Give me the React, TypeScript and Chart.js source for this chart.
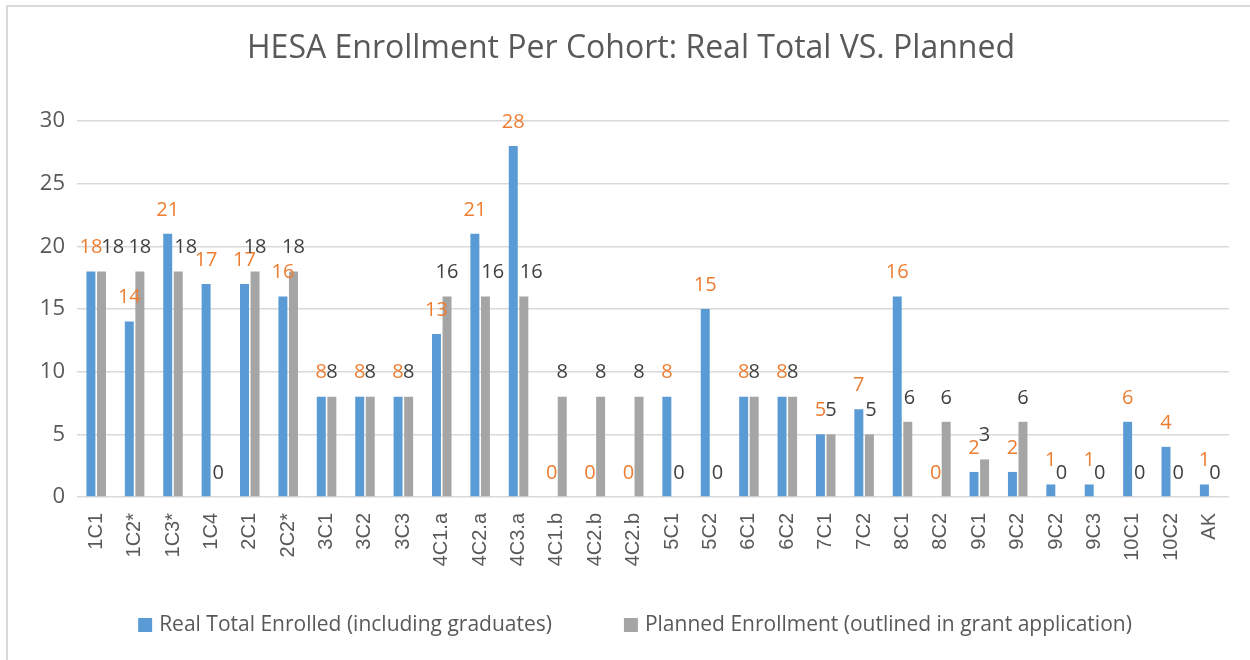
import React, { useEffect, useRef } from "react";
import { Chart, registerables } from "chart.js";

Chart.register(...registerables);

const categories = ["1C1", "1C2*", "1C3*", "1C4", "2C1", "2C2*", "3C1", "3C2", "3C3", "4C1.a", "4C2.a", "4C3.a", "4C1.b", "4C2.b", "4C2.b", "5C1", "5C2", "6C1", "6C2", "7C1", "7C2", "8C1", "8C2", "9C1", "9C2", "9C2", "9C3", "10C1", "10C2", "AK"];
const realEnrolled = [18, 14, 21, 17, 17, 16, 8, 8, 8, 13, 21, 28, 0, 0, 0, 8, 15, 8, 8, 5, 7, 16, 0, 2, 2, 1, 1, 6, 4, 1];
const plannedEnrollment = [18, 18, 18, 0, 18, 18, 8, 8, 8, 16, 16, 16, 8, 8, 8, 0, 0, 8, 8, 5, 5, 6, 6, 3, 6, 0, 0, 0, 0, 0];
const yTicks = [0, 5, 10, 15, 20, 25, 30];
const seriesNames = ["Real Total Enrolled (including graduates)", "Planned Enrollment (outlined in grant application)"];
const titleText = "HESA Enrollment Per Cohort: Real Total VS. Planned";

const BLUE = "#5B9BD5";
const GREY = "#A5A5A5";
const ORANGE = "#ED7D31";
const TEXT = "#595959";
const GRID = "#D9D9D9";

const framePlugin = {
  id: "frame",
  beforeDraw(chart: any) {
    const ctx = chart.ctx;
    ctx.save();
    ctx.fillStyle = "#ffffff";
    ctx.fillRect(0, 0, chart.width, chart.height);
    ctx.fillStyle = GRID;
    ctx.fillRect(6, 5, 2, chart.height - 5);
    ctx.fillRect(6, 5, chart.width - 6, 2);
    ctx.fillStyle = TEXT;
    ctx.font = "32px 'Open Sans'";
    ctx.textAlign = "center";
    ctx.textBaseline = "middle";
    ctx.fillText(titleText, 631, 49);
    ctx.restore();
  },
};

const labelPlugin = {
  id: "barLabels",
  afterDatasetsDraw(chart: any) {
    const ctx = chart.ctx;
    ctx.save();
    ctx.font = "20px 'Open Sans'";
    ctx.textAlign = "center";
    ctx.textBaseline = "middle";
    const m0 = chart.getDatasetMeta(0);
    const m1 = chart.getDatasetMeta(1);
    const H = 15;
    for (let i = 0; i < categories.length; i++) {
      const b0 = m0.data[i];
      const b1 = m1.data[i];
      const t0 = String(realEnrolled[i]);
      const t1 = String(plannedEnrollment[i]);
      const x0 = b0.x;
      const y0 = b0.y - 24;
      let x1 = b1.x;
      const y1 = b1.y - 24;
      const w0 = ctx.measureText(t0).width;
      const w1 = ctx.measureText(t1).width;
      if (Math.abs(y0 - y1) < H - 5) {
        const minLeft = x0 + w0 / 2 - 1;
        if (x1 - w1 / 2 < minLeft) x1 = minLeft + w1 / 2;
      }
      const barRight = b0.x + b0.width / 2;
      if (b0.y < y1 + H / 2 && x1 - w1 / 2 < barRight + 2) x1 = barRight + 2 + w1 / 2;
      ctx.fillStyle = ORANGE;
      ctx.fillText(t0, x0, y0);
      ctx.fillStyle = "#404040";
      ctx.fillText(t1, x1, y1);
    }
    ctx.restore();
  },
};

const legendPlugin = {
  id: "bottomLegend",
  afterDraw(chart: any) {
    const ctx = chart.ctx;
    ctx.save();
    ctx.font = "21px 'Open Sans'";
    const items = chart.data.datasets.map((d: any) => ({
      text: d.label,
      color: d.backgroundColor,
      w: ctx.measureText(d.label).width,
    }));
    const box = 14;
    const gapBT = 7;
    const gapItems = 72;
    const total = items.reduce((s: number, it: any) => s + box + gapBT + it.w, 0) + gapItems * (items.length - 1);
    let x = 635 - total / 2;
    const y = 625;
    for (const it of items) {
      ctx.fillStyle = it.color;
      ctx.fillRect(x, y - 7, box, box);
      x += box + gapBT;
      ctx.fillStyle = TEXT;
      ctx.textBaseline = "middle";
      ctx.textAlign = "left";
      ctx.fillText(it.text, x, y);
      x += it.w + gapItems;
    }
    ctx.restore();
  },
};

export default function App() {
  const ref = useRef<HTMLCanvasElement | null>(null);
  useEffect(() => {
    if (!ref.current) return;
    const chart = new Chart(ref.current, {
      type: "bar",
      data: {
        labels: categories,
        datasets: [
          { label: seriesNames[0], data: realEnrolled, backgroundColor: BLUE, borderWidth: 0, categoryPercentage: 0.55, barPercentage: 0.85 },
          { label: seriesNames[1], data: plannedEnrollment, backgroundColor: GREY, borderWidth: 0, categoryPercentage: 0.55, barPercentage: 0.85 },
        ],
      },
      options: {
        responsive: false,
        animation: false,
        layout: { padding: { top: 121, left: 6, right: 19, bottom: 49 } },
        plugins: {
          legend: { display: false },
          tooltip: { enabled: false },
          title: { display: false },
        },
        scales: {
          x: {
            grid: { display: false, drawTicks: false },
            border: { display: false },
            ticks: {
              autoSkip: false,
              maxRotation: 90,
              minRotation: 90,
              padding: 16,
              color: TEXT,
              font: { family: "'Liberation Sans'", size: 20 },
            },
            afterFit(scale: any) {
              scale.height = 114;
            },
          },
          y: {
            min: 0,
            max: 30,
            afterBuildTicks(scale: any) {
              scale.ticks = yTicks.map((v) => ({ value: v }));
            },
            grid: { color: GRID, lineWidth: 1.5, drawTicks: false },
            border: { display: false },
            ticks: {
              padding: 12,
              color: TEXT,
              font: { family: "'Open Sans'", size: 22 },
            },
            afterFit(scale: any) {
              scale.width = 71;
            },
          },
        },
      },
      plugins: [framePlugin, labelPlugin, legendPlugin],
    });
    return () => chart.destroy();
  }, []);
  return (
    <div style={{ position: "fixed", left: 0, top: 0, width: 1250, height: 660, background: "#fff" }}>
      <canvas ref={ref} width={1250} height={660} style={{ display: "block" }} />
    </div>
  );
}
